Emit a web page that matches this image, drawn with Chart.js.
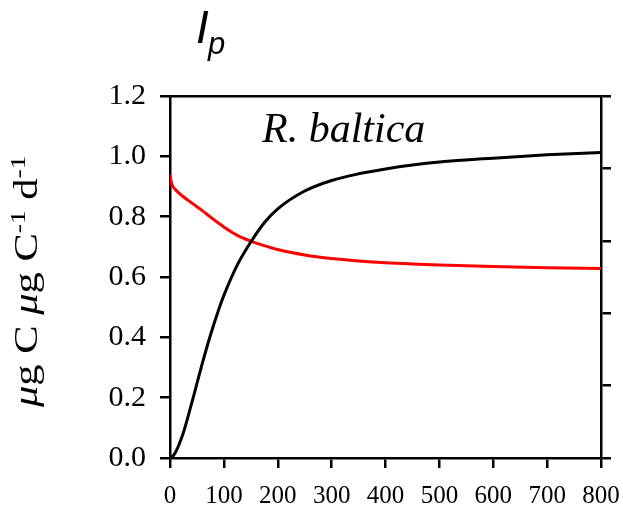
<!DOCTYPE html>
<html>
<head>
<meta charset="utf-8">
<script src="https://cdn.jsdelivr.net/npm/chart.js@4"></script>
<style>
  html, body { margin: 0; padding: 0; background: #fff; }
  #wrap { width: 623px; height: 512px; position: relative; }
</style>
</head>
<body>
<div id="wrap"><canvas id="ipChart"></canvas></div>
<script>
// light intensity (x) and the two model curves
const lightLevels = [0, 3, 10, 25, 40, 50, 60, 75, 90, 100, 125, 150, 175, 200, 250, 300, 350, 400, 450, 500, 600, 700, 800];
const photoRate = [0, 0.002, 0.018, 0.085, 0.18, 0.247, 0.314, 0.407, 0.49, 0.539, 0.64, 0.716, 0.78, 0.826, 0.885, 0.92, 0.942, 0.958, 0.971, 0.981, 0.994, 1.005, 1.013];
const growthRate = [0.94, 0.91, 0.89, 0.866, 0.846, 0.833, 0.82, 0.799, 0.779, 0.766, 0.738, 0.719, 0.704, 0.691, 0.673, 0.661, 0.653, 0.647, 0.643, 0.64, 0.635, 0.631, 0.628];
const xTicks = [0, 100, 200, 300, 400, 500, 600, 700, 800];
const yTicks = [0, 0.2, 0.4, 0.6, 0.8, 1.0, 1.2];

const toPoints = ys => lightLevels.map((x, i) => ({ x: x, y: ys[i] }));

const serif = '"Liberation Serif", "Times New Roman", serif';
const sans = '"Liberation Sans", Arial, sans-serif';

const axisGrid = { drawOnChartArea: false, drawTicks: true, tickLength: 10, color: '#000', lineWidth: 2.5 };
const axisBorder = { display: true, color: '#000', width: 2.5 };

// extra text: panel title, species name, rotated unit label
const labelsPlugin = {
    id: 'extraText',
    afterDraw(chart) {
        const ctx = chart.ctx;
        ctx.save();
        ctx.fillStyle = '#000';
        ctx.textBaseline = 'alphabetic';
        ctx.textAlign = 'left';

        // I_p
        ctx.font = 'italic 46px ' + sans;
        ctx.fillText('I', 196, 43);
        ctx.font = 'italic 31px ' + sans;
        ctx.fillText('p', 208, 54);

        // R. baltica
        ctx.font = 'italic 42px ' + serif;
        ctx.fillText('R. baltica', 262, 142);

        // y label
        ctx.translate(37, 407);
        ctx.rotate(-Math.PI / 2);
        ctx.scale(1.25, 1);
        const parts = [
            { t: '\u03bc', f: 'italic 34px ' + serif, dy: 0 },
            { t: 'g C ', f: '34px ' + serif, dy: 0 },
            { t: '\u03bc', f: 'italic 34px ' + serif, dy: 0 },
            { t: 'g C', f: '34px ' + serif, dy: 0 },
            { t: '-1', f: '22px ' + serif, dy: -12 },
            { t: ' d', f: '34px ' + serif, dy: 0 },
            { t: '-1', f: '22px ' + serif, dy: -12 }
        ];
        let px = 0;
        parts.forEach(p => {
            ctx.font = p.f;
            ctx.fillText(p.t, px, p.dy);
            px += ctx.measureText(p.t).width;
        });
        ctx.restore();
    }
};

new Chart(document.getElementById('ipChart'), {
    type: 'line',
    data: {
        datasets: [
            {
                data: toPoints(photoRate),
                borderColor: '#000',
                borderWidth: 3,
                pointRadius: 0,
                cubicInterpolationMode: 'monotone',
                fill: false
            },
            {
                data: toPoints(growthRate),
                borderColor: '#ff0000',
                borderWidth: 3,
                pointRadius: 0,
                cubicInterpolationMode: 'monotone',
                fill: false
            }
        ]
    },
    options: {
        responsive: true,
        maintainAspectRatio: false,
        animation: false,
        layout: { padding: 0 },
        plugins: {
            legend: { display: false },
            tooltip: { enabled: false }
        },
        scales: {
            x: {
                type: 'linear',
                position: 'bottom',
                min: 0,
                max: 800,
                afterBuildTicks: axis => { axis.ticks = xTicks.map(v => ({ value: v })); },
                afterFit: axis => {
                    axis.height = 54;
                    axis.paddingLeft = 0;
                    axis.paddingRight = 0;
                },
                ticks: { color: '#000', font: { family: serif, size: 25 }, padding: 13, maxRotation: 0, autoSkip: false },
                grid: axisGrid,
                border: axisBorder
            },
            x2: {
                type: 'linear',
                position: 'top',
                min: 0,
                max: 800,
                afterFit: axis => { axis.height = 96; },
                ticks: { display: false },
                grid: { display: false },
                border: axisBorder
            },
            y: {
                position: 'left',
                min: 0,
                max: 1.2,
                afterBuildTicks: axis => { axis.ticks = yTicks.map(v => ({ value: v })); },
                afterFit: axis => { axis.width = 170; },
                ticks: {
                    color: '#000',
                    font: { family: serif, size: 30 },
                    padding: 14,
                    autoSkip: false,
                    callback: v => v.toFixed(1)
                },
                grid: axisGrid,
                border: axisBorder
            },
            y2: {
                position: 'right',
                min: 0,
                max: 1,
                afterFit: axis => { axis.width = 22; },
                ticks: { stepSize: 0.2, display: false },
                grid: axisGrid,
                border: axisBorder
            }
        }
    },
    plugins: [labelsPlugin]
});
</script>
</body>
</html>
